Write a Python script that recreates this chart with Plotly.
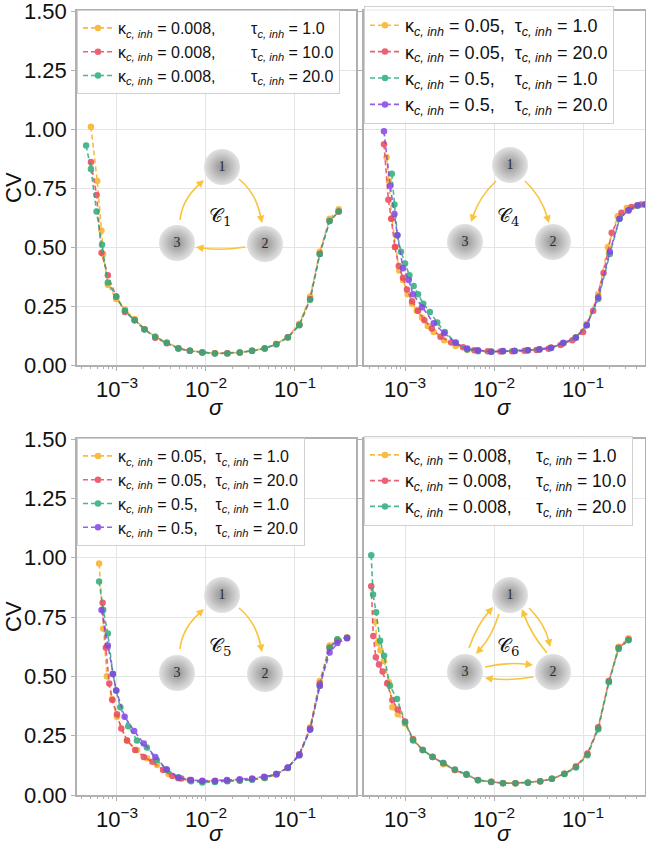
import math
import plotly.graph_objects as go

W, H = 646, 847
FONT = "Liberation Sans, Arial, sans-serif"

# ---------------- data ----------------
# Panel C1 (top-left)
c1_sig_orange = [0.00051, 0.00060, 0.00067, 0.00070, 0.00079, 0.00098, 0.00123, 0.00158, 0.00204, 0.00269, 0.00363, 0.0049, 0.0066, 0.0091, 0.0126, 0.0174, 0.024, 0.033, 0.0457, 0.0617, 0.0832, 0.112, 0.148, 0.19, 0.245, 0.31]
c1_cv_orange = [1.01, 0.78, 0.57, 0.47, 0.34, 0.28, 0.235, 0.195, 0.152, 0.12, 0.095, 0.072, 0.06, 0.054, 0.05, 0.05, 0.053, 0.06, 0.071, 0.09, 0.118, 0.175, 0.29, 0.48, 0.62, 0.66]
c1_sig_red = [0.00051, 0.00059, 0.00067, 0.00079, 0.00098, 0.00123, 0.00158, 0.00204, 0.00269, 0.00363, 0.0049, 0.0066, 0.0091, 0.0126, 0.0174, 0.024, 0.033, 0.0457, 0.0617, 0.0832, 0.112, 0.148, 0.19, 0.245, 0.31]
c1_cv_red = [0.86, 0.72, 0.475, 0.38, 0.29, 0.225, 0.19, 0.152, 0.115, 0.092, 0.07, 0.06, 0.053, 0.05, 0.05, 0.053, 0.06, 0.07, 0.088, 0.118, 0.17, 0.28, 0.47, 0.61, 0.65]
c1_sig_green = [0.00045, 0.00051, 0.00059, 0.00068, 0.00079, 0.00098, 0.00123, 0.00158, 0.00204, 0.00269, 0.00363, 0.0049, 0.0066, 0.0091, 0.0126, 0.0174, 0.024, 0.033, 0.0457, 0.0617, 0.0832, 0.112, 0.148, 0.19, 0.245, 0.31]
c1_cv_green = [0.93, 0.83, 0.65, 0.51, 0.35, 0.29, 0.23, 0.19, 0.15, 0.12, 0.094, 0.07, 0.06, 0.053, 0.049, 0.049, 0.053, 0.06, 0.07, 0.088, 0.116, 0.168, 0.276, 0.47, 0.61, 0.65]

# Panel C4 (top-right)
c4_sig_orange = [0.00062, 0.00066, 0.00071, 0.00078, 0.00086, 0.00095, 0.00107, 0.0012, 0.00135, 0.00155, 0.0018, 0.0021, 0.00275, 0.0037, 0.005, 0.0066, 0.0093, 0.0126, 0.017, 0.024, 0.0324, 0.0437, 0.060, 0.083, 0.11, 0.148, 0.19, 0.245, 0.31, 0.4, 0.5]
c4_cv_orange = [0.88, 0.78, 0.62, 0.50, 0.40, 0.36, 0.30, 0.26, 0.23, 0.20, 0.165, 0.14, 0.105, 0.08, 0.065, 0.06, 0.057, 0.058, 0.06, 0.062, 0.066, 0.074, 0.092, 0.118, 0.175, 0.30, 0.50, 0.63, 0.665, 0.675, 0.68]
c4_sig_red = [0.00058, 0.00065, 0.0007, 0.00077, 0.00085, 0.00095, 0.00105, 0.0012, 0.0014, 0.00165, 0.002, 0.0025, 0.0033, 0.0045, 0.006, 0.0085, 0.0118, 0.016, 0.022, 0.03, 0.041, 0.056, 0.076, 0.1, 0.13, 0.17, 0.21, 0.27, 0.35, 0.45]
c4_cv_red = [0.935, 0.70, 0.62, 0.50, 0.42, 0.37, 0.32, 0.27, 0.23, 0.19, 0.155, 0.12, 0.095, 0.075, 0.063, 0.058, 0.057, 0.058, 0.06, 0.064, 0.069, 0.085, 0.105, 0.14, 0.23, 0.39, 0.56, 0.645, 0.67, 0.68]
c4_sig_green = [0.00071, 0.00076, 0.00082, 0.0009, 0.001, 0.00112, 0.00125, 0.0014, 0.0016, 0.0019, 0.0023, 0.0028, 0.0037, 0.005, 0.0066, 0.0093, 0.0126, 0.017, 0.024, 0.0324, 0.0437, 0.060, 0.083, 0.11, 0.148, 0.2, 0.257, 0.324, 0.41, 0.5]
c4_cv_green = [0.81, 0.68, 0.55, 0.48, 0.43, 0.38, 0.335, 0.30, 0.26, 0.225, 0.18, 0.14, 0.095, 0.066, 0.058, 0.056, 0.058, 0.059, 0.062, 0.066, 0.072, 0.092, 0.115, 0.168, 0.28, 0.47, 0.62, 0.655, 0.675, 0.68]
c4_sig_purple = [0.00058, 0.00068, 0.00076, 0.00082, 0.00095, 0.0011, 0.00123, 0.00155, 0.0021, 0.00275, 0.0037, 0.005, 0.0066, 0.0093, 0.0126, 0.017, 0.024, 0.0324, 0.0437, 0.060, 0.083, 0.11, 0.148, 0.2, 0.257, 0.324, 0.41, 0.5]
c4_cv_purple = [0.99, 0.76, 0.64, 0.55, 0.41, 0.36, 0.30, 0.245, 0.177, 0.135, 0.094, 0.07, 0.063, 0.056, 0.059, 0.059, 0.063, 0.067, 0.073, 0.094, 0.116, 0.168, 0.286, 0.48, 0.62, 0.656, 0.677, 0.68]

# Panel C5 (bottom-left)
c5_sig_orange = [0.00063, 0.0007, 0.00077, 0.00088, 0.001, 0.00129, 0.00168, 0.00218, 0.00282, 0.0038, 0.0049, 0.0066, 0.0091, 0.0126, 0.0174, 0.024, 0.033, 0.0457, 0.0617, 0.0832, 0.112, 0.148, 0.19, 0.245, 0.30, 0.385]
c5_cv_orange = [0.975, 0.70, 0.50, 0.405, 0.33, 0.23, 0.19, 0.155, 0.126, 0.088, 0.07, 0.062, 0.058, 0.058, 0.06, 0.062, 0.066, 0.072, 0.085, 0.113, 0.172, 0.285, 0.48, 0.63, 0.655, 0.665]
c5_sig_red = [0.00069, 0.00075, 0.00082, 0.00089, 0.001, 0.00112, 0.0013, 0.0016, 0.002, 0.0025, 0.0033, 0.0042, 0.0053, 0.0066, 0.0091, 0.0126, 0.0174, 0.024, 0.033, 0.0457, 0.0617, 0.0832, 0.112, 0.148, 0.19, 0.245, 0.30, 0.385]
c5_cv_red = [0.81, 0.62, 0.47, 0.40, 0.34, 0.28, 0.23, 0.19, 0.16, 0.14, 0.105, 0.08, 0.07, 0.063, 0.058, 0.058, 0.06, 0.062, 0.066, 0.075, 0.088, 0.115, 0.172, 0.28, 0.47, 0.62, 0.65, 0.662]
c5_sig_green = [0.00063, 0.0007, 0.00079, 0.0009, 0.00098, 0.00109, 0.00134, 0.00168, 0.00217, 0.0028, 0.00365, 0.0049, 0.0068, 0.0091, 0.0126, 0.0174, 0.024, 0.033, 0.0457, 0.0617, 0.0832, 0.112, 0.148, 0.19, 0.245, 0.30, 0.385]
c5_cv_green = [0.90, 0.78, 0.68, 0.51, 0.44, 0.37, 0.29, 0.23, 0.20, 0.147, 0.105, 0.075, 0.058, 0.053, 0.055, 0.058, 0.06, 0.064, 0.072, 0.088, 0.115, 0.168, 0.276, 0.46, 0.62, 0.656, 0.663]
c5_sig_purple = [0.00067, 0.00079, 0.0009, 0.00098, 0.00122, 0.00156, 0.002, 0.0027, 0.0036, 0.0049, 0.0068, 0.0091, 0.0127, 0.0172, 0.0239, 0.033, 0.045, 0.062, 0.083, 0.112, 0.148, 0.19, 0.245, 0.30, 0.385]
c5_cv_purple = [0.78, 0.63, 0.51, 0.44, 0.33, 0.27, 0.217, 0.16, 0.108, 0.073, 0.063, 0.06, 0.06, 0.063, 0.066, 0.07, 0.077, 0.088, 0.116, 0.168, 0.276, 0.46, 0.60, 0.64, 0.66]

# Panel C6 (bottom-right)
c6_sig_orange = [0.00046, 0.00049, 0.00053, 0.00058, 0.00066, 0.00072, 0.00083, 0.001, 0.00123, 0.00158, 0.00204, 0.00269, 0.00363, 0.0049, 0.0066, 0.0093, 0.0126, 0.0174, 0.024, 0.033, 0.0447, 0.0617, 0.0832, 0.112, 0.148, 0.195, 0.251, 0.324]
c6_cv_orange = [0.73, 0.64, 0.61, 0.565, 0.475, 0.37, 0.34, 0.30, 0.235, 0.19, 0.162, 0.13, 0.105, 0.085, 0.062, 0.056, 0.051, 0.05, 0.052, 0.057, 0.068, 0.09, 0.12, 0.172, 0.28, 0.48, 0.625, 0.66]
c6_sig_red = [0.000417, 0.00044, 0.00047, 0.00051, 0.00056, 0.00063, 0.00072, 0.00083, 0.001, 0.00123, 0.00158, 0.00204, 0.00269, 0.00363, 0.0049, 0.0066, 0.0093, 0.0126, 0.0174, 0.024, 0.033, 0.0447, 0.0617, 0.0832, 0.112, 0.148, 0.195, 0.251, 0.324]
c6_cv_red = [0.88, 0.67, 0.58, 0.55, 0.52, 0.47, 0.40, 0.36, 0.31, 0.235, 0.19, 0.16, 0.135, 0.105, 0.085, 0.063, 0.055, 0.05, 0.05, 0.053, 0.058, 0.068, 0.09, 0.12, 0.175, 0.285, 0.48, 0.62, 0.655]
c6_sig_green = [0.000417, 0.000437, 0.000473, 0.000525, 0.000582, 0.000676, 0.000813, 0.001, 0.00123, 0.00158, 0.00204, 0.00269, 0.00363, 0.0049, 0.0066, 0.0093, 0.0126, 0.0174, 0.024, 0.033, 0.0447, 0.0617, 0.0832, 0.112, 0.148, 0.195, 0.251, 0.324]
c6_cv_green = [1.01, 0.845, 0.77, 0.65, 0.587, 0.46, 0.405, 0.307, 0.23, 0.19, 0.16, 0.135, 0.107, 0.088, 0.062, 0.056, 0.05, 0.049, 0.052, 0.058, 0.068, 0.088, 0.116, 0.168, 0.277, 0.475, 0.615, 0.652]

y_ticks = [0.0, 0.25, 0.5, 0.75, 1.0, 1.25, 1.5]
y_ticktext = ["0.00", "0.25", "0.50", "0.75", "1.00", "1.25", "1.50"]
x_ticks = [1e-3, 1e-2, 1e-1]
x_ticktext = ["10<sup>−3</sup>", "10<sup>−2</sup>", "10<sup>−1</sup>"]

COL = {"orange": "#f7b125", "red": "#e8465f", "green": "#2bac78", "purple": "#8344e6"}

NB = "\u00a0"
FS = "\u2007"


def lab(k, t, gap):
    return (f"κ<sub><i>c, inh</i></sub>{NB}={NB}{k},{gap}"
            f"τ<sub><i>c, inh</i></sub>{NB}={NB}{t}")


panels = [
    dict(xa="x", ya="y", lg="legend", series=[
        ("orange", c1_sig_orange, c1_cv_orange, lab("0.008", "1.0", FS * 3 + NB * 2)),
        ("red", c1_sig_red, c1_cv_red, lab("0.008", "10.0", FS * 3 + NB * 2)),
        ("green", c1_sig_green, c1_cv_green, lab("0.008", "20.0", FS * 3 + NB * 2)),
    ]),
    dict(xa="x2", ya="y2", lg="legend2", series=[
        ("orange", c4_sig_orange, c4_cv_orange, lab("0.05", "1.0", NB * 2)),
        ("red", c4_sig_red, c4_cv_red, lab("0.05", "20.0", NB * 2)),
        ("green", c4_sig_green, c4_cv_green, lab("0.5", "1.0", FS + NB * 2)),
        ("purple", c4_sig_purple, c4_cv_purple, lab("0.5", "20.0", FS + NB * 2)),
    ]),
    dict(xa="x3", ya="y3", lg="legend3", series=[
        ("orange", c5_sig_orange, c5_cv_orange, lab("0.05", "1.0", NB * 2)),
        ("red", c5_sig_red, c5_cv_red, lab("0.05", "20.0", NB * 2)),
        ("green", c5_sig_green, c5_cv_green, lab("0.5", "1.0", FS + NB * 2)),
        ("purple", c5_sig_purple, c5_cv_purple, lab("0.5", "20.0", FS + NB * 2)),
    ]),
    dict(xa="x4", ya="y4", lg="legend4", series=[
        ("orange", c6_sig_orange, c6_cv_orange, lab("0.008", "1.0", FS + NB * 3)),
        ("red", c6_sig_red, c6_cv_red, lab("0.008", "10.0", FS + NB * 3)),
        ("green", c6_sig_green, c6_cv_green, lab("0.008", "20.0", FS + NB * 3)),
    ]),
]

fig = go.Figure()
for p in panels:
    for cname, sx, sy, name in p["series"]:
        fig.add_trace(go.Scatter(
            x=sx, y=sy, xaxis=p["xa"], yaxis=p["ya"], legend=p["lg"],
            mode="lines+markers", name=name, opacity=0.85,
            line=dict(color=COL[cname], width=1.6, dash="5px,3px"),
            marker=dict(color=COL[cname], size=6.5),
        ))

# ---------------- network diagrams (decorative overlay, pixel coords) ----------------
nodes = [
    (222, 167, "1"), (265, 244, "2"), (177, 243, "3"),
    (510, 165, "1"), (553, 242, "2"), (465, 242, "3"),
    (222, 595, "1"), (265, 674, "2"), (177, 673, "3"),
    (510, 595, "1"), (553, 672, "2"), (465, 672, "3"),
]
motif_labels = [(220, 216, "1"), (508, 216, "4"), (220, 646, "5"), (508, 646, "6")]
# (start, control, end)
arrows = [
    ((180, 220), (182, 200), (204, 180)),
    ((239, 179), (256, 193), (262, 223)),
    ((245, 247), (221, 251), (196, 247)),
    ((496, 181), (480, 196), (471, 222)),
    ((525, 181), (541, 196), (549, 223)),
    ((180, 649), (182, 629), (204, 609)),
    ((239, 608), (256, 622), (262, 652)),
    ((469, 648), (477, 625), (493, 607)),
    ((499, 614), (492, 636), (476, 654)),
    ((547, 653), (531, 634), (522, 609)),
    ((529, 608), (545, 624), (550, 647)),
    ((485, 667), (508, 662), (533, 665)),
    ((533, 677), (510, 681), (485, 678)),
]
ARROW_COL = "#f8c43a"

fig.add_trace(go.Scatter(
    x=[n[0] for n in nodes], y=[n[1] for n in nodes], xaxis="x5", yaxis="y5",
    mode="markers+text", text=[n[2] for n in nodes], textposition="middle center",
    textfont=dict(family="Liberation Serif, DejaVu Serif, serif", size=14, color="#2a2a2a"),
    marker=dict(size=36, color="#e2e2e2", gradient=dict(type="radial", color="#929292"), line=dict(width=0)),
    showlegend=False, hoverinfo="skip",
))

shapes = []
annotations = []
for (s, c, e) in arrows:
    dx, dy = e[0] - c[0], e[1] - c[1]
    L = math.hypot(dx, dy)
    ux, uy = dx / L, dy / L
    hl, hw = 7.5, 3.8
    bx, by = e[0] - ux * hl, e[1] - uy * hl
    shapes.append(dict(type="path", xref="x5", yref="y5",
                       path=f"M {s[0]},{s[1]} Q {c[0]},{c[1]} {bx + ux},{by + uy}",
                       line=dict(color=ARROW_COL, width=1.6)))
    shapes.append(dict(type="path", xref="x5", yref="y5",
                       path=(f"M {e[0]},{e[1]} L {bx - uy * hw},{by + ux * hw} "
                             f"L {bx + uy * hw},{by - ux * hw} Z"),
                       fillcolor=ARROW_COL, line=dict(width=0)))
for (x, y, k) in motif_labels:
    annotations.append(dict(xref="x5", yref="y5", x=x, y=y, showarrow=False,
                            text=f"𝒞<sub>{k}</sub>",
                            font=dict(family="DejaVu Serif, Liberation Serif, serif", size=19, color="#111")))

# axis titles
for px, py in [(216, 408), (504, 408), (216, 833), (504, 833)]:
    annotations.append(dict(xref="paper", yref="paper", x=px / W, y=1 - py / H, showarrow=False,
                            xanchor="center", yanchor="middle",
                            text="<i>σ</i>", font=dict(family=FONT, size=22, color="#111")))
for py in [188, 617]:
    annotations.append(dict(xref="paper", yref="paper", x=13 / W, y=1 - py / H, showarrow=False,
                            xanchor="center", yanchor="middle",
                            text="CV", textangle=-90, font=dict(family=FONT, size=22, color="#111")))

minor_vals = [k * 10.0 ** e for e in (-4, -3, -2, -1) for k in range(2, 10)]
AX = "#b0b0b0"
GRID = "#e4e4e4"


def xaxis(domain, anchor, rng):
    return dict(domain=domain, anchor=anchor, type="log", range=rng, automargin=False,
                tickmode="array", tickvals=x_ticks, ticktext=x_ticktext,
                showgrid=True, gridcolor=GRID, gridwidth=1, zeroline=False,
                showline=True, mirror=True, linecolor=AX, linewidth=1.5,
                ticks="outside", ticklen=4, tickcolor=AX, tickwidth=1,
                minor=dict(tickmode="array", tickvals=minor_vals, ticks="outside", ticklen=2.5,
                           tickcolor=AX, tickwidth=1, showgrid=False),
                ticklabeloverflow="allow",
                tickfont=dict(family=FONT, size=22, color="#111"))


def yaxis(domain, anchor, labels):
    return dict(domain=domain, anchor=anchor, range=[0, 1.5], automargin=False,
                tickmode="array", tickvals=y_ticks, ticktext=y_ticktext,
                showticklabels=labels, ticklabeloverflow="allow",
                showgrid=True, gridcolor=GRID, gridwidth=1, zeroline=False,
                showline=True, mirror=True, linecolor=AX, linewidth=1.5,
                ticks="outside", ticklen=4, tickcolor=AX, tickwidth=1,
                tickfont=dict(family=FONT, size=22, color="#111"))


XL = [77 / W, 356 / W]
XR = [364 / W, 645 / W]
YT = [1 - 365 / H, 1 - 11 / H]
YB = [1 - 795 / H, 1 - 439 / H]
RL = [-3.449, -0.314]
RR = [-3.461, -0.304]


def legend(px, py, fs):
    return dict(x=px / W, y=1 - py / H, xanchor="left", yanchor="top",
                bgcolor="rgba(255,255,255,0.85)", bordercolor="#d0d0d0", borderwidth=1,
                font=dict(family=FONT, size=fs, color="#111"), tracegroupgap=0, itemwidth=30)


fig.update_layout(
    width=W, height=H, margin=dict(l=0, r=0, t=0, b=0),
    paper_bgcolor="white", plot_bgcolor="rgba(0,0,0,0)",
    showlegend=True,
    xaxis=xaxis(XL, "y", RL), yaxis=yaxis(YT, "x", True),
    xaxis2=xaxis(XR, "y2", RR), yaxis2=yaxis(YT, "x2", False),
    xaxis3=xaxis(XL, "y3", RL), yaxis3=yaxis(YB, "x3", True),
    xaxis4=xaxis(XR, "y4", RR), yaxis4=yaxis(YB, "x4", False),
    xaxis5=dict(domain=[0, 1], range=[0, W], visible=False, anchor="y5", fixedrange=True),
    yaxis5=dict(domain=[0, 1], range=[H, 0], visible=False, anchor="x5", fixedrange=True),
    legend=legend(77, 10, 16), legend2=legend(364, 6, 18),
    legend3=legend(77, 438, 16), legend4=legend(364, 436, 17.5),
    shapes=shapes, annotations=annotations,
)

fig.write_html("out.html", config={"displayModeBar": False},
               post_script="document.body.style.margin='0';document.body.style.padding='0';")
